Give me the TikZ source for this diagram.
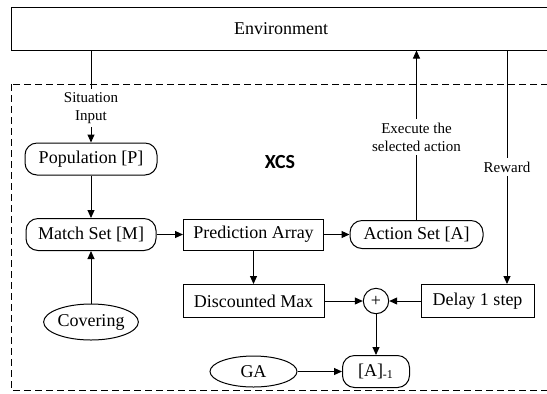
\documentclass[tikz,border=0pt]{standalone}
\usepackage{fontspec}
\setmainfont{Liberation Serif}
\newfontfamily\xcsfont{Carlito}
\usetikzlibrary{arrows.meta,shapes.geometric,positioning}

\begin{document}
\begin{tikzpicture}[
           x = 0.5pt, y = -0.5pt,% one unit is one pixel of the picture
           > = {Triangle[length=4pt,width=3.5pt]}, line width=0.5pt,
every node/.style = {font=\fontsize{9}{11}\selectfont},
   box/.style = {draw, rectangle, minimum height=16.5pt, inner sep=1pt},% plain boxes
  rbox/.style = {draw, rounded corners=6pt, minimum height=16pt, inner sep=1pt},% sets
   ell/.style = {draw, ellipse, inner sep=0pt},% operators
   lbl/.style = {font=\fontsize{7.5}{9}\selectfont, align=center, inner sep=1.5pt},% text on lines
  zone/.style = {dash pattern=on 3.5pt off 2pt},% the XCS part
]
\useasboundingbox (0,0) rectangle (547,393);
\clip (0,0) rectangle (547,393);
% environment and XCS frame
\node[draw, minimum width=270pt, minimum height=21.3pt] (env) at (281,28.7) {Environment};
\draw[zone] (11,84) rectangle (551,390);
\node[font=\xcsfont\bfseries\fontsize{10}{12}\selectfont] (xcs) at (280,162) {XCS};
% sets and boxes
\node[rbox, minimum width=66pt]   (pop)   at (91,159)      {Population [P]};
\node[rbox, minimum width=65pt]   (match) at (91,234.5)    {Match Set [M]};
\node[box,  minimum width=70pt, minimum height=15.5pt] (pred) at (253.5,234.5) {Prediction Array};
\node[rbox, minimum width=66.5pt, minimum height=14pt] (act) at (416.5,234.5) {Action Set [A]};
\node[box,  minimum width=70.5pt] (disc)  at (253.5,301)   {Discounted Max};
\node[draw, circle, minimum size=12.7pt, inner sep=0pt] (plus) at (376,301) {+};
\node[box,  minimum width=56.5pt] (delay) at (477.5,301)   {Delay 1 step};
\node[rbox, minimum width=33.5pt] (am1)   at (376,371.5)   {[A]\textsubscript{-1}};
\node[ell, minimum width=46pt, minimum height=18pt]    (cov) at (91,322)      {Covering};
\node[ell, minimum width=43.5pt, minimum height=15.5pt] (ga) at (253.5,371.5) {GA};
% labels on the lines to and from the environment
\node[lbl] (sit) at (91,108)    {Situation\\Input};
\node[lbl] (exe) at (416.5,137) {Execute the\\selected action};
\node[lbl] (rew) at (507,167)   {Reward};
% connections
\draw (env.south -| sit) -- (sit);
\draw[->] (sit) -- (pop);
\draw[->] (pop) -- (match);
\draw[->] (cov) -- (match);
\draw[->] (match) -- (pred);
\draw[->] (pred) -- (act);
\draw (act) -- (exe);
\draw[->] (exe) -- (env.south -| exe);
\draw[->] (pred) -- (disc);
\draw[->] (disc) -- (plus);
\draw[->] (delay) -- (plus);
\draw[->] (plus) -- (am1);
\draw[->] (ga) -- (am1);
\draw (env.south -| rew) -- (rew);
\draw[->] (rew) -- (delay.north -| rew);
\end{tikzpicture}
\end{document}
